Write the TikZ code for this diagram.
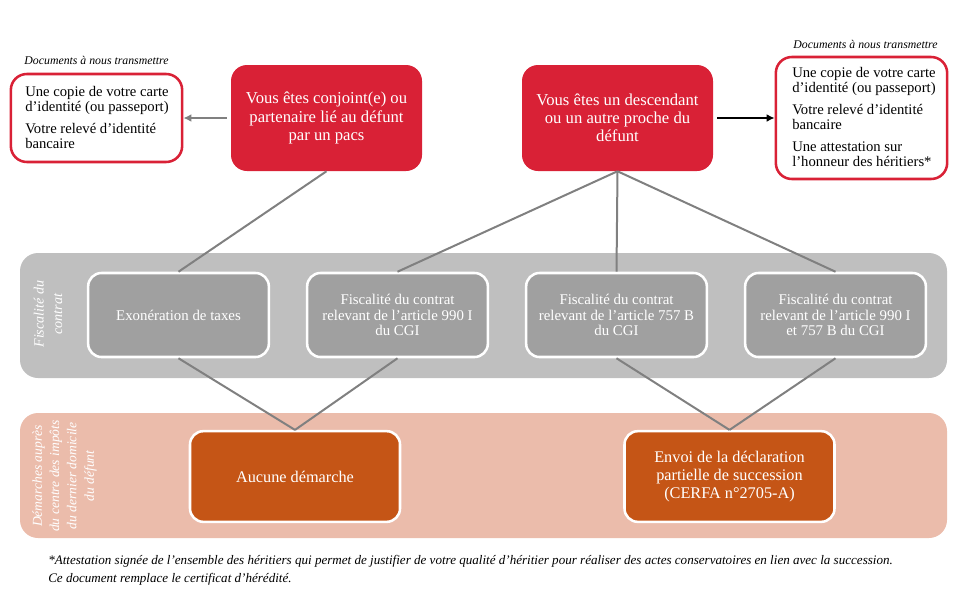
\documentclass[tikz,border=0pt]{standalone}
\usepackage{fontspec}
\setmainfont{Liberation Serif}
\usetikzlibrary{arrows.meta,positioning}
\definecolor{redbox}{HTML}{D92136}
\definecolor{greyband}{HTML}{BFBFBF}
\definecolor{greybox}{HTML}{A0A0A0}
\definecolor{pinkband}{HTML}{EBBCAB}
\definecolor{orangebox}{HTML}{C55516}
\definecolor{linkgrey}{HTML}{808080}
\tikzset{
  band/.style={fill=#1, rounded corners=13.5pt, minimum width=695.25pt, minimum height=93.75pt, inner sep=0pt},
  bandlabel/.style={rotate=90, align=center, text=white, font=\fontsize{10.6}{14}\selectfont\itshape, inner sep=0pt},
  profile/.style={fill=redbox, rounded corners=12pt, text=white, align=center, minimum width=143.25pt, minimum height=79.5pt, inner sep=0pt, font=\fontsize{12.5}{13.6}\selectfont},
  docs/.style={draw=redbox, line width=1.9pt, fill=white, rounded corners=12pt, minimum width=128.5pt, inner sep=0pt},
  docstext/.style={align=left, inner sep=0pt, font=\fontsize{11}{11.4}\selectfont},
  docstitle/.style={inner sep=0pt, font=\fontsize{8.85}{10}\selectfont\itshape},
  tax/.style={draw=white, line width=1.9pt, fill=greybox, rounded corners=10pt, text=white, align=center, minimum width=135.5pt, minimum height=63pt, inner sep=0pt, font=\fontsize{11.15}{11.6}\selectfont},
  step box/.style={draw=white, line width=1.9pt, fill=orangebox, rounded corners=10pt, text=white, align=center, minimum width=157.5pt, minimum height=68pt, inner sep=0pt, font=\fontsize{12.2}{13.2}\selectfont},
  link/.style={draw=linkgrey, line width=1.5pt},
}
\begin{document}
\begin{tikzpicture}[x=0.75pt,y=-0.75pt]
\useasboundingbox (0,0) rectangle (960,600);

%Bands
\node[band=greyband] (fiscband) at (483.5,315.5) {};
\node[band=pinkband] (demband) at (483.5,475.5) {};
\node[bandlabel] (fisclabel) at (48,314) {Fiscalité du\\contrat};
\node[bandlabel, font=\fontsize{10.2}{13}\selectfont\itshape] (demlabel) at (64.5,476) {Démarches auprès\\du centre des impôts\\du dernier domicile\\du défunt};

%Top row
\node[profile] (conj) at (326.5,118) {Vous êtes conjoint(e) ou\\partenaire lié au défunt\\par un pacs};
\node[profile] (desc) at (617.5,118) {Vous êtes un descendant\\ou un autre proche du\\défunt};

\node[docs, minimum height=66pt] (docsl) at (96.5,118) {};
\node[docs, minimum height=91.5pt] (docsr) at (861.5,118) {};
\node[docstitle] (titlel) at (96.5,60) {Documents à nous transmettre};
\node[docstitle] (titler) at (865.5,44) {Documents à nous transmettre};
\node[docstext, anchor=north west] (textl) at (25,86) {Une copie de votre carte\\d’identité (ou passeport)\\[5pt]Votre relevé d’identité\\bancaire};
\node[docstext, anchor=north west] (textr) at (792,67) {Une copie de votre carte\\d’identité (ou passeport)\\[5pt]Votre relevé d’identité\\bancaire\\[5pt]Une attestation sur\\l’honneur des héritiers*};

%Tax boxes
\node[tax] (exo) at (178.5,315) {Exonération de taxes};
\node[tax] (artA) at (397.5,315) {Fiscalité du contrat\\relevant de l’article 990 I\\du CGI};
\node[tax] (artB) at (616.5,315) {Fiscalité du contrat\\relevant de l’article 757 B\\du CGI};
\node[tax] (artC) at (835.5,315) {Fiscalité du contrat\\relevant de l’article 990 I\\et 757 B du CGI};

%Steps
\node[step box] (none) at (295,476.5) {Aucune démarche};
\node[step box] (send) at (729.5,476.5) {Envoi de la déclaration\\partielle de succession\\(CERFA n°2705-A)};

%Footnote
\node[anchor=north west, align=left, inner sep=0pt, font=\fontsize{9.8}{13.5}\selectfont\itshape] (note) at (48,555) {*Attestation signée de l’ensemble des héritiers qui permet de justifier de votre qualité d’héritier pour réaliser des actes conservatoires en lien avec la succession.\\Ce document remplace le certificat d’hérédité.};

%Links
\draw[link] (conj.south) -- (exo.north);
\draw[link] (desc.south) -- (artA.north);
\draw[link] (desc.south) -- (artB.north);
\draw[link] (desc.south) -- (artC.north);
\draw[link] (exo.south) -- (none.north);
\draw[link] (artA.south) -- (none.north);
\draw[link] (artB.south) -- (send.north);
\draw[link] (artC.south) -- (send.north);

\draw[link, -{Latex[length=6pt,width=6pt]}, shorten <=3pt] (conj.west) -- (docsl.east);
\draw[line width=1.5pt, -{Latex[length=6pt,width=6pt]}, shorten <=3pt] (desc.east) -- (docsr.west);
\end{tikzpicture}
\end{document}
